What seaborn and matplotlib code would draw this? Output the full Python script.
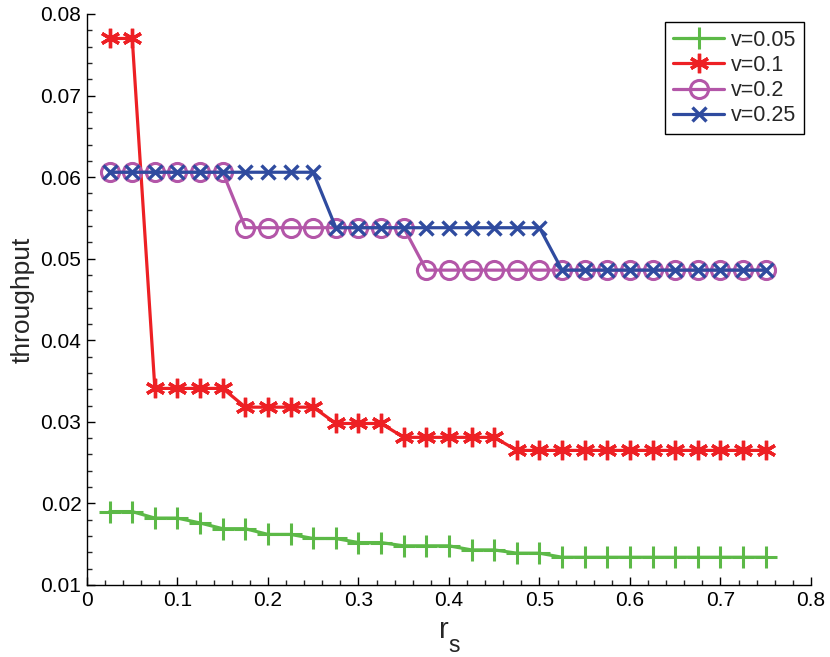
import numpy as np
import seaborn as sns
import matplotlib
matplotlib.use("Agg")
import matplotlib.pyplot as plt
from matplotlib.ticker import MultipleLocator, FuncFormatter

# r_s values, 0.025 .. 0.75
rs = [0.025, 0.05, 0.075, 0.1, 0.125, 0.15, 0.175, 0.2, 0.225, 0.25,
      0.275, 0.3, 0.325, 0.35, 0.375, 0.4, 0.425, 0.45, 0.475, 0.5,
      0.525, 0.55, 0.575, 0.6, 0.625, 0.65, 0.675, 0.7, 0.725, 0.75]

v005 = [0.0190, 0.0190, 0.0182, 0.0182, 0.0176, 0.0169, 0.0169, 0.0162, 0.0162, 0.0157,
        0.0157, 0.0152, 0.0152, 0.0148, 0.0148, 0.0148, 0.0143, 0.0143, 0.0139, 0.0139,
        0.0134, 0.0134, 0.0134, 0.0134, 0.0134, 0.0134, 0.0134, 0.0134, 0.0134, 0.0134]
v01 = [0.0770, 0.0770, 0.0341, 0.0341, 0.0341, 0.0341, 0.0318, 0.0318, 0.0318, 0.0318,
       0.0298, 0.0298, 0.0298, 0.0281, 0.0281, 0.0281, 0.0281, 0.0281, 0.0265, 0.0265,
       0.0265, 0.0265, 0.0265, 0.0265, 0.0265, 0.0265, 0.0265, 0.0265, 0.0265, 0.0265]
v02 = [0.0606, 0.0606, 0.0606, 0.0606, 0.0606, 0.0606, 0.0538, 0.0538, 0.0538, 0.0538,
       0.0538, 0.0538, 0.0538, 0.0538, 0.0486, 0.0486, 0.0486, 0.0486, 0.0486, 0.0486,
       0.0486, 0.0486, 0.0486, 0.0486, 0.0486, 0.0486, 0.0486, 0.0486, 0.0486, 0.0486]
v025 = [0.0606, 0.0606, 0.0606, 0.0606, 0.0606, 0.0606, 0.0606, 0.0606, 0.0606, 0.0606,
        0.0538, 0.0538, 0.0538, 0.0538, 0.0538, 0.0538, 0.0538, 0.0538, 0.0538, 0.0538,
        0.0486, 0.0486, 0.0486, 0.0486, 0.0486, 0.0486, 0.0486, 0.0486, 0.0486, 0.0486]

labels = ['v=0.05', 'v=0.1', 'v=0.2', 'v=0.25']
colors = ['#5cb947', '#ed2024', '#b356a8', '#2f4b9f']

sns.set_style("ticks")
plt.rcParams['font.family'] = ['Liberation Sans', 'DejaVu Sans']

fig, ax = plt.subplots(figsize=(8.3, 6.57), dpi=100)
fig.subplots_adjust(left=0.1048, right=0.9771, top=0.9787, bottom=0.1096)

# green: plus markers
sns.lineplot(x=rs, y=v005, color=colors[0], marker='+', markersize=16, mew=2.2,
             mec=colors[0], linewidth=2.3, label=labels[0], ax=ax)
# red: asterisk
sns.lineplot(x=rs, y=v01, color=colors[1], marker=(6, 2, 0), markersize=14, mew=2.4,
             mec=colors[1], linewidth=2.3, label=labels[1], ax=ax)
# purple: open circles
sns.lineplot(x=rs, y=v02, color=colors[2], marker='o', markersize=13, mew=2.2,
             mec=colors[2], mfc='none', linewidth=2.3, label=labels[2], ax=ax)
# blue: x markers
sns.lineplot(x=rs, y=v025, color=colors[3], marker='x', markersize=9.5, mew=2.4,
             mec=colors[3], linewidth=2.3, label=labels[3], ax=ax)

ax.set_xlim(0, 0.8)
ax.set_ylim(0.01, 0.08)
ax.xaxis.set_major_locator(MultipleLocator(0.1))
ax.xaxis.set_minor_locator(MultipleLocator(0.02))
ax.yaxis.set_major_locator(MultipleLocator(0.01))
ax.yaxis.set_minor_locator(MultipleLocator(0.002))
fmt = FuncFormatter(lambda v, p: '%g' % round(v, 4))
ax.xaxis.set_major_formatter(fmt)
ax.yaxis.set_major_formatter(fmt)
ax.tick_params(which='major', direction='in', length=6, width=1, labelsize=15,
               colors='black', pad=4)
ax.tick_params(which='minor', direction='in', length=3.5, width=1)
for s in ['left', 'bottom']:
    ax.spines[s].set_color('black')
    ax.spines[s].set_linewidth(1)
sns.despine(ax=ax)

# x label r with a lowered subscript s
fig.text(444 / 830, 1 - 638 / 657, 'r', fontsize=21, ha='center', va='baseline')
fig.text(448 / 830, 1 - 652 / 657, 's', fontsize=16.5, ha='left', va='baseline')
ax.set_ylabel('throughput', fontsize=19, labelpad=4)

leg = ax.legend(loc='upper right', fontsize=15.5, handlelength=2.4, frameon=True,
                fancybox=False, edgecolor='black', framealpha=1,
                borderpad=0.35, labelspacing=0.2, handletextpad=0.3,
                borderaxespad=0, bbox_to_anchor=(0.990, 0.986))
leg.get_frame().set_linewidth(1)

fig.savefig('out.png', dpi=100)
